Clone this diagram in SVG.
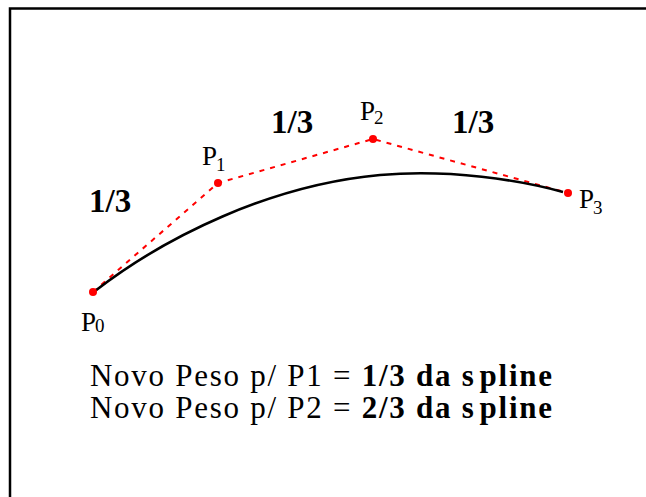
<svg xmlns="http://www.w3.org/2000/svg" width="646" height="497" viewBox="0 0 646 497">
<style>
text{font-family:"Liberation Serif","DejaVu Serif","Times New Roman",Times,serif;fill:#000}
.lbl{font-weight:bold;font-size:33px}
.pt{font-size:27px}
.sub{font-size:19px}
.txt{font-size:31px}
.ctrl{fill:none;stroke:#ff0000;stroke-width:2;stroke-dasharray:5 6}
.dot{fill:#ff0000}
</style>
<rect width="646" height="497" fill="#fff"/>
<path d="M10,497 V8.5 H646" fill="none" stroke="#000" stroke-width="2.5"/>
<g id="connectors">
<polyline class="ctrl" points="93,292 218,183 373,139 568,193"/>
<path d="M95,291 C165,237 270,185 380,175 C450,169 520,180 563,192" fill="none" stroke="#000" stroke-width="2.6"/>
</g>
<g id="P0"><circle class="dot" cx="93" cy="292" r="4"/><text class="pt" x="81" y="331">P<tspan class="sub" dx="-1" dy="1">0</tspan></text></g>
<g id="P1"><circle class="dot" cx="218" cy="183" r="4"/><text class="pt" x="202" y="165">P<tspan class="sub" dx="-1" dy="6">1</tspan></text></g>
<g id="P2"><circle class="dot" cx="373" cy="139" r="4"/><text class="pt" x="360" y="120">P<tspan class="sub" dx="-1" dy="4">2</tspan></text></g>
<g id="P3"><circle class="dot" cx="568" cy="193" r="4"/><text class="pt" x="579" y="208">P<tspan class="sub" dx="-1" dy="6">3</tspan></text></g>
<g id="labels">
<text class="lbl" x="89" y="212">1/3</text>
<text class="lbl" x="271" y="133">1/3</text>
<text class="lbl" x="452" y="133">1/3</text>
</g>
<g id="caption">
<text class="txt" x="90" y="386" textLength="462" lengthAdjust="spacing">Novo Peso p/ P1 = <tspan font-weight="bold">1/3 da s<tspan dx="4">pline</tspan></tspan></text>
<text class="txt" x="90" y="418" textLength="462" lengthAdjust="spacing">Novo Peso p/ P2 = <tspan font-weight="bold">2/3 da s<tspan dx="4">pline</tspan></tspan></text>
</g>
</svg>
